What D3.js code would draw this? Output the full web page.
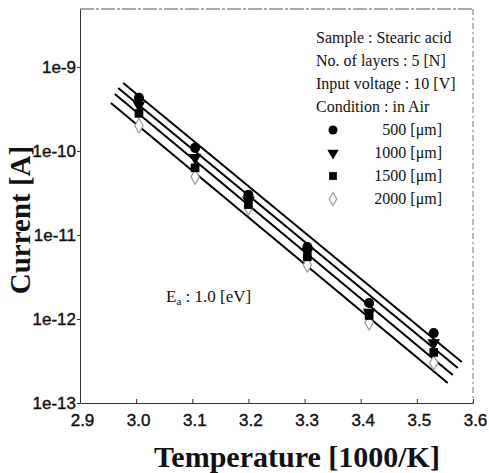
<!DOCTYPE html>
<html><head><meta charset="utf-8">
<script src="https://cdn.jsdelivr.net/npm/d3@7"></script>
<style>body{margin:0;background:#fff}svg{display:block}</style>
</head><body>
<svg id="c" width="489" height="473"></svg>
<script>
// ---- data ----
const invTemp = [3.005, 3.105, 3.2, 3.305, 3.415, 3.53];
const current500  = [4.3e-10, 1.09e-10, 3.0e-11, 7.2e-12, 1.55e-12, 6.8e-13];
const current1000 = [3.5e-10, 8.3e-11, 2.6e-11, 6.3e-12, 1.2e-12, 5.2e-13];
const current1500 = [2.8e-10, 6.3e-11, 2.3e-11, 5.5e-12, 1.1e-12, 4.0e-13];
const current2000 = [2.0e-10, 4.9e-11, 2.1e-11, 4.4e-12, 9.0e-13, 3.0e-13];
const seriesNames = ["500 [\u03bcm]", "1000 [\u03bcm]", "1500 [\u03bcm]", "2000 [\u03bcm]"];
// fitted lines: endpoints [x0, x1] and [I0, I1]
const fitX = [[2.977, 3.580], [2.968, 3.573], [2.962, 3.564], [2.955, 3.555]];
const fitI = [[6.45e-10, 3.08e-13], [5.62e-10, 2.61e-13], [4.78e-10, 2.15e-13], [3.72e-10, 1.73e-13]];
const xTicks = [2.9, 3.0, 3.1, 3.2, 3.3, 3.4, 3.5, 3.6];
const yTicks = [1e-13, 1e-12, 1e-11, 1e-10, 1e-9];
const yTickLabels = ["1e-13", "1e-12", "1e-11", "1e-10", "1e-9"];
const infoLines = ["Sample : Stearic acid", "No. of layers : 5 [N]", "Input voltage : 10 [V]", "Condition : in Air"];

// ---- layout ----
const L = 80, R = 473, T = 9, B = 403;
const svg = d3.select("#c");
const x = d3.scaleLinear().domain([2.9, 3.6]).range([L, R]);
const y = d3.scaleLog().domain([1e-13, Math.pow(10, -8.31)]).range([B, T]);

// frame top/right
svg.append("line").attr("x1", L).attr("x2", R).attr("y1", T).attr("y2", T)
  .attr("stroke", "#555").attr("stroke-width", 1).attr("stroke-dasharray", "14,2,3,2");
svg.append("line").attr("x1", R).attr("x2", R).attr("y1", T).attr("y2", B)
  .attr("stroke", "#777").attr("stroke-width", 1).attr("stroke-dasharray", "6,3,2,3");

const sans = "Liberation Sans, Arial, sans-serif";
// axes
const xAxis = d3.axisBottom(x).tickValues(xTicks).tickFormat(d3.format(".1f"))
  .tickSizeInner(-4).tickSizeOuter(0).tickPadding(11);
const gx = svg.append("g").attr("transform", `translate(0,${B})`).call(xAxis);
gx.selectAll("text").attr("font-family", sans)
  .attr("font-size", 17).attr("fill", "#111").attr("stroke", "#111").attr("stroke-width", 0.4).attr("dx", 2);
gx.select(".domain").attr("stroke", "#333");
gx.selectAll(".tick line").attr("stroke", "#333");

const yAxis = d3.axisLeft(y).tickValues(yTicks).tickFormat((d, i) => yTickLabels[i])
  .tickSizeInner(3).tickSizeOuter(0).tickPadding(1);
const gy = svg.append("g").attr("transform", `translate(${L},0)`).call(yAxis);
gy.selectAll("text").attr("font-family", sans)
  .attr("font-size", 17).attr("fill", "#111").attr("stroke", "#111").attr("stroke-width", 0.4);
gy.select(".domain").attr("stroke", "#333");
gy.selectAll(".tick line").attr("stroke", "#333");

// fit lines
fitX.forEach((xs, i) => {
  const pts = [[xs[0], fitI[i][0]], [xs[1], fitI[i][1]]];
  svg.append("path").attr("d", d3.line().x(d => x(d[0])).y(d => y(d[1]))(pts))
    .attr("stroke", "#000").attr("stroke-width", 2).attr("fill", "none");
});

// markers
const sym = [d3.symbolCircle, d3.symbolTriangle, d3.symbolSquare, d3.symbolDiamond];
const sizes = [80, 70, 75, 60];
const fills = ["#000", "#000", "#000", "#fff"];
const strokes = ["none", "none", "none", "#999"];
const rots = [0, 180, 0, 0];
const data = [current500, current1000, current1500, current2000];
[3, 2, 1, 0].forEach(i => {
  svg.append("g").selectAll("path").data(invTemp).join("path")
    .attr("d", d3.symbol(sym[i], sizes[i]))
    .attr("transform", (d, j) => `translate(${x(d)},${y(data[i][j])}) rotate(${rots[i]})`)
    .attr("fill", fills[i]).attr("stroke", strokes[i]).attr("stroke-width", 1.2);
});

// info text
const serif = "Liberation Serif, Times New Roman, serif";
infoLines.forEach((t, i) => {
  svg.append("text").attr("x", 316).attr("y", 43 + i * 23).text(t)
    .attr("font-family", serif).attr("font-size", 16).attr("fill", "#111");
});
// legend
seriesNames.forEach((t, i) => {
  const cy = 130 + i * 23;
  svg.append("path").attr("d", d3.symbol(sym[i], sizes[i] * 0.8))
    .attr("transform", `translate(333,${cy}) rotate(${rots[i]})`)
    .attr("fill", fills[i]).attr("stroke", strokes[i]).attr("stroke-width", 1.2);
  svg.append("text").attr("x", 442).attr("y", cy + 5).attr("text-anchor", "end").text(t)
    .attr("font-family", serif).attr("font-size", 16).attr("fill", "#111");
});

// Ea label
const ea = svg.append("text").attr("x", 166).attr("y", 302)
  .attr("font-family", serif).attr("font-size", 17).attr("fill", "#111");
ea.append("tspan").text("E");
ea.append("tspan").text("a").attr("font-size", 11).attr("dy", 3);
ea.append("tspan").text(" : 1.0 [eV]").attr("dy", -3);

// axis titles
svg.append("text").attr("x", 297).attr("y", 467).attr("text-anchor", "middle")
  .text("Temperature [1000/K]").attr("font-family", serif).attr("font-weight", "bold")
  .attr("font-size", 30).attr("fill", "#111");
svg.append("text").attr("transform", "translate(30,220) rotate(-90)").attr("text-anchor", "middle")
  .text("Current [A]").attr("font-family", serif).attr("font-weight", "bold")
  .attr("font-size", 29).attr("fill", "#111");
</script>
</body></html>
